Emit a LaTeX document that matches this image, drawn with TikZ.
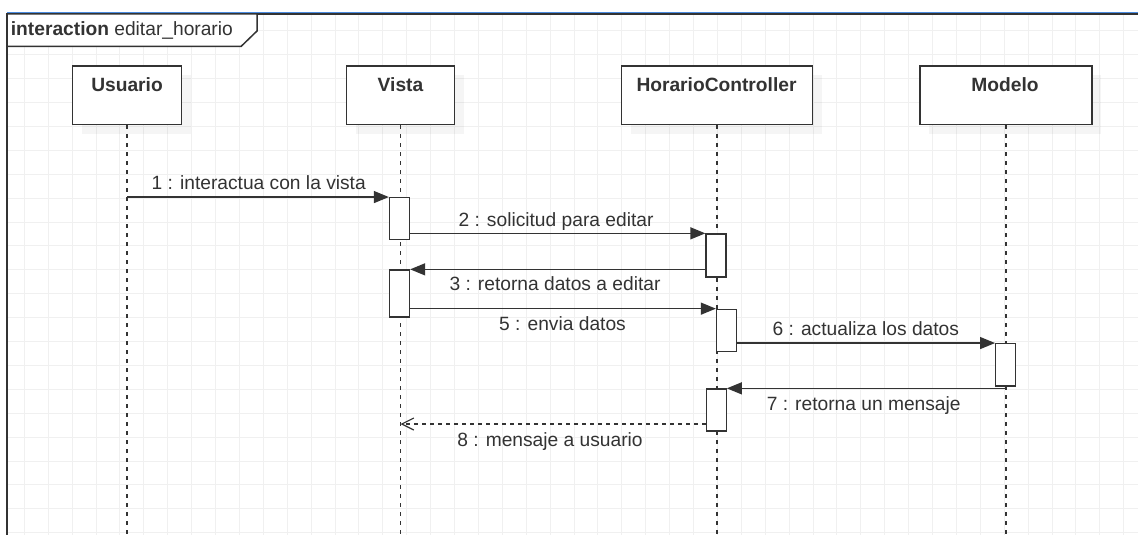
\documentclass[tikz,border=0pt]{standalone}
\usepackage{fontspec}
\setmainfont{Liberation Sans}
\usetikzlibrary{arrows.meta,shadows}
\definecolor{ink}{HTML}{333333}
\definecolor{gridc}{HTML}{F0F0F0}
\definecolor{selblue}{HTML}{4A8BE0}
\begin{document}
\begin{tikzpicture}[x=1pt,y=-1pt,
  every node/.style={font=\fontsize{19.2}{23}\selectfont, text=ink, inner sep=0pt},
  gridline/.style={draw=gridc, line width=1pt},
  lifebox/.style={draw=ink, line width=1.6pt, fill=white, minimum height=58.5pt, minimum width=#1,
    drop shadow={shadow xshift=9pt, shadow yshift=-9pt, fill=black, opacity=0.04}},
  actbox/.style={draw=ink, line width=1.3pt, fill=white, minimum width=20pt, minimum height=#1},
  lifeline/.style={draw=ink, line width=1.5pt, dash pattern=on 4pt off 5pt},
  msg/.style={draw=ink, line width=1.3pt, -{Triangle[length=15pt,width=12pt]}},
  reply/.style={draw=ink, line width=1.3pt, dash pattern=on 4pt off 4pt,
    -{Straight Barb[length=12pt,width=12pt,line width=1.2pt]}},
  msglabel/.style={anchor=base},
  title/.style={anchor=base, font=\fontsize{19.2}{23}\selectfont\bfseries},
  frameline/.style={draw=ink, line width=1.5pt}
]
\useasboundingbox (0,0) rectangle (1138,535);
\fill[white] (0,0) rectangle (1138,535);
% grid
\foreach \k in {1,...,47} \draw[gridline] ({0.4+23.9*\k},14) -- ({0.4+23.9*\k},535);
\foreach \k in {1,...,22} \draw[gridline] (7,{6.9+23.9*\k}) -- (1138,{6.9+23.9*\k});
% frame
\draw[selblue, line width=1.2pt] (7,12.2) -- (1138,12.2);
\draw[frameline] (7,535) -- (7,14) -- (1138,14);

% lifeline heads
\node[lifebox=109pt] (u) at (127,95.3) {};
\node[lifebox=108pt] (v) at (400.5,95.3) {};
\node[lifebox=191pt] (c) at (717,95.3) {};
\node[lifebox=172pt] (m) at (1006,95.3) {};
\node[title] (ut) at (127,91.7) {Usuario};
\node[title] (vt) at (400.5,91.7) {Vista};
\node[title] (ct) at (716.5,91.7) {HorarioController};
\node[title] (mt) at (1005,91.7) {Modelo};

% lifelines
\coordinate (ue) at (127,535);
\coordinate (ve) at (400.5,535);
\coordinate (ce) at (717,535);
\coordinate (me) at (1006,535);
\draw[lifeline] (u.south) -- (ue);
\draw[lifeline] (v.south) -- (ve);
\draw[lifeline] (c.south) -- (ce);
\draw[lifeline] (m.south) -- (me);

% activations
\node[actbox=41.6pt] (a1) at (399.5,218.5) {};
\node[actbox=47pt] (a2) at (399.5,293.5) {};
\node[actbox=43pt] (c1) at (716,255.5) {};
\node[actbox=42.4pt] (c2) at (726.5,330.5) {};
\node[actbox=42pt] (c3) at (716.2,410) {};
\node[actbox=42.3pt] (m1) at (1005.7,364.85) {};

% messages
\draw[msg] (u.south |- a1.north west) -- (a1.north west);
\draw[msg] (a1.east |- c1.north west) -- (c1.north west);
\draw[msg] (c1.west |- a2.north east) -- (a2.north east);
\draw[msg] (a2.east |- c2.north west) -- (c2.north west);
\draw[msg] (c2.east |- m1.north west) -- (m1.north west);
\draw[msg] (m.south |- c3.north east) -- (c3.north east);
\coordinate (y8) at (0,424);
\draw[reply] (c3.west |- y8) -- (v.south |- y8);

% message labels
\node[msglabel] (l1) at (258.7,189.3) {1 : interactua con la vista};
\node[msglabel] (l2) at (556,226) {2 : solicitud para editar};
\node[msglabel] (l3) at (555,290.7) {3 : retorna datos a editar};
\node[msglabel] (l5) at (562.5,330) {5 : envia datos};
\node[msglabel] (l6) at (865.8,335) {6 : actualiza los datos};
\node[msglabel] (l7) at (863.7,410) {7 : retorna un mensaje};
\node[msglabel] (l8) at (550,446) {8 : mensaje a usuario};

% frame label
\draw[frameline, fill=white] (7,14) -- (257,14) -- (257,31) -- (241,46.5) -- (7,46.5) -- cycle;
\node[anchor=base west] (fl) at (10.7,36) {\textbf{interaction} editar\_horario};
\end{tikzpicture}
\end{document}
